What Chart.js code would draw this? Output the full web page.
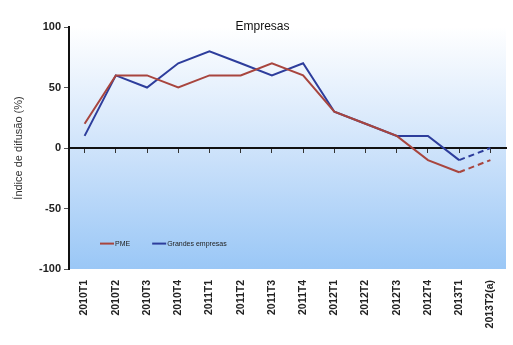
<!DOCTYPE html>
<html><head><meta charset="utf-8">
<script src="https://cdn.jsdelivr.net/npm/chart.js@4/dist/chart.umd.min.js"></script>
<style>html,body{margin:0;padding:0;background:#fff}#wrap{width:513px;height:345px}</style>
</head><body><div id="wrap"><canvas id="c" width="513" height="345"></canvas></div>
<script>
const categories = ["2010T1","2010T2","2010T3","2010T4","2011T1","2011T2","2011T3","2011T4","2012T1","2012T2","2012T3","2012T4","2013T1","2013T2(a)"];
const pmeValues = [20,60,60,50,60,60,70,60,30,20,10,-10,-20,-10];
const grandesValues = [10,60,50,70,80,70,60,70,30,20,10,10,-10,0];
const yTicks = [100,50,0,-50,-100];
const seriesNames = ["PME","Grandes empresas"];
const chartTitle = "Empresas";
const yTitle = "Índice de difusão (%)";

const RED = "#a8453e", BLUE = "#2d3d9c";
const FONT = "'Liberation Sans', Arial, sans-serif";
const lastIdx = categories.length - 1;

const bgPlugin = {
  id: 'bg',
  beforeDraw(chart) {
    const {ctx, chartArea: a} = chart;
    const g = ctx.createLinearGradient(0, a.top, 0, a.bottom);
    g.addColorStop(0, '#ffffff');
    g.addColorStop(0.45, '#d4e6fb');
    g.addColorStop(1, '#9ac7f6');
    ctx.save(); ctx.fillStyle = g;
    ctx.fillRect(a.left, a.top, a.right - a.left, a.bottom - a.top);
    ctx.restore();
  },
  afterDraw(chart) {
    const {ctx, chartArea: a} = chart;
    ctx.save();
    ctx.fillStyle = '#111';
    ctx.font = "12px " + FONT;
    ctx.textAlign = 'center'; ctx.textBaseline = 'middle';
    ctx.fillText(chartTitle, (a.left + a.right) / 2 - 25, a.top);
    // legend inside plot
    const ys = chart.scales.y;
    const ly = ys.getPixelForValue(-79);
    let x = a.left + 31;
    ctx.font = "7px " + FONT;
    ctx.textAlign = 'left';
    chart.data.datasets.forEach((ds, i) => {
      ctx.strokeStyle = ds.borderColor; ctx.lineWidth = 2;
      ctx.beginPath(); ctx.moveTo(x, ly); ctx.lineTo(x + 14, ly); ctx.stroke();
      ctx.fillStyle = '#222';
      ctx.fillText(ds.label, x + 15, ly);
      x += 15 + ctx.measureText(ds.label).width + 22;
    });
    ctx.restore();
  }
};

const seg = {
  borderDash: c => c.p1DataIndex === lastIdx ? [6, 4] : undefined
};

new Chart(document.getElementById('c'), {
  type: 'line',
  data: {
    labels: categories,
    datasets: [
      {label: seriesNames[0], data: pmeValues, borderColor: RED, backgroundColor: RED, borderWidth: 2, pointRadius: 0, tension: 0, segment: seg},
      {label: seriesNames[1], data: grandesValues, borderColor: BLUE, backgroundColor: BLUE, borderWidth: 2, pointRadius: 0, tension: 0, segment: seg}
    ]
  },
  options: {
    responsive: false, animation: false,
    layout: {padding: {top: 27, right: 7, left: 0, bottom: 0}},
    plugins: {legend: {display: false}, title: {display: false}, tooltip: {enabled: false}},
    scales: {
      x: {
        type: 'category', offset: true, position: 'bottom',
        grid: {display: false, drawOnChartArea: false},
        border: {display: false},
        ticks: {maxRotation: 90, minRotation: 90, autoSkip: false, color: '#222', padding: 3,
                font: {family: FONT, size: 10.5, weight: 'bold'}},
        afterFit(s) { s.height = 76; }
      },
      x2: {
        type: 'category', offset: true, position: {y: 0}, labels: categories,
        grid: {display: true, drawOnChartArea: false, drawTicks: true, tickLength: 4, color: '#333', lineWidth: 1},
        border: {display: true, color: '#111', width: 2},
        ticks: {display: false}
      },
      y: {
        min: -100, max: 100,
        afterBuildTicks(s) { s.ticks = yTicks.map(v => ({value: v})); },
        grid: {display: true, drawOnChartArea: false, tickLength: 5, color: '#555'},
        border: {display: true, color: '#111', width: 2},
        ticks: {color: '#222', padding: 3, font: {family: FONT, size: 11, weight: 'bold'}},
        title: {display: true, text: yTitle, color: '#333', padding: {top: 12, bottom: 0},
                font: {family: FONT, size: 11}},
        afterFit(s) { s.width = 69; }
      }
    }
  },
  plugins: [bgPlugin]
});
</script>
</body></html>
